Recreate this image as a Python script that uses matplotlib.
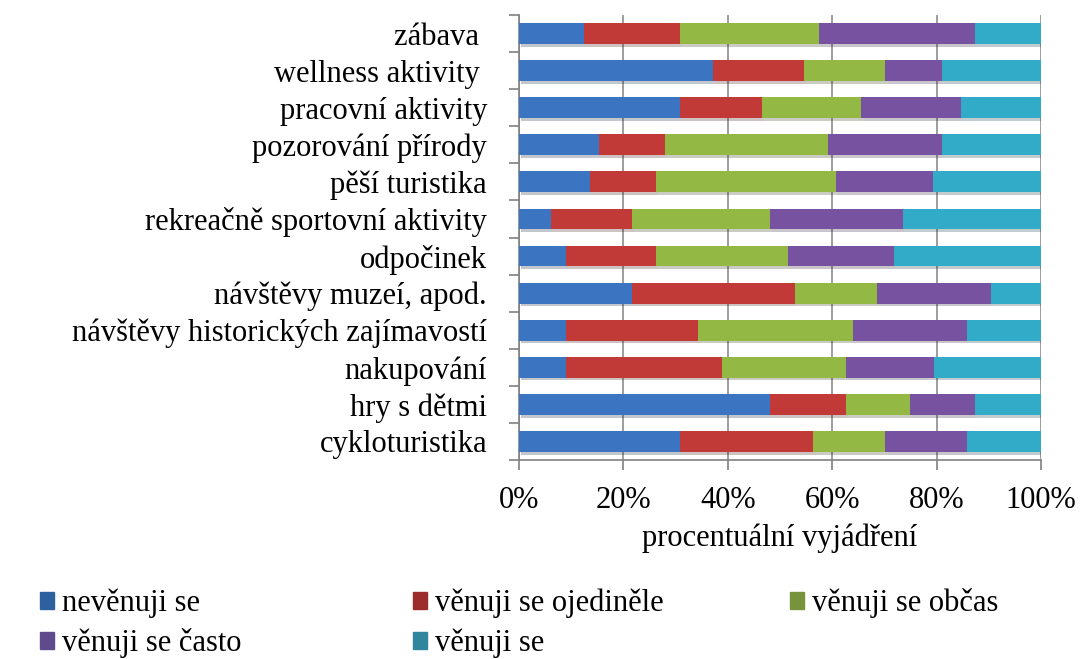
import numpy as np
import matplotlib.pyplot as plt
from matplotlib.patches import Rectangle
import matplotlib.patheffects as pe

plt.rcParams['font.family'] = ['Liberation Serif', 'DejaVu Serif']

categories = ['zábava ', 'wellness aktivity ', 'pracovní aktivity', 'pozorování přírody',
              'pěší turistika', 'rekreačně sportovní aktivity', 'odpočinek',
              'návštěvy muzeí, apod.', 'návštěvy historických zajímavostí',
              'nakupování', 'hry s dětmi', 'cykloturistika']

series_names = ['nevěnuji se', 'věnuji se ojediněle', 'věnuji se občas',
                'věnuji se často', 'věnuji se']

nevenuji = [12.4, 37.2, 30.9, 15.3, 13.6, 6.1, 9.0, 21.6, 9.0, 9.0, 48.1, 30.9]
ojedinele = [18.5, 17.4, 15.7, 12.6, 12.7, 15.5, 17.3, 31.3, 25.3, 29.9, 14.5, 25.4]
obcas = [26.6, 15.6, 19.0, 31.3, 34.5, 26.5, 25.3, 15.6, 29.6, 23.7, 12.3, 13.9]
casto = [29.9, 10.9, 19.0, 21.8, 18.6, 25.4, 20.3, 21.9, 21.9, 16.9, 12.5, 15.6]
venuji = [12.6, 18.9, 15.4, 19.0, 20.6, 26.5, 28.1, 9.6, 14.2, 20.5, 12.6, 14.2]

bar_colors = ['#3b74c0', '#c23a37', '#93b944', '#7752a0', '#32abc9']
legend_colors = ['#2e5f9e', '#9b2d2a', '#77933c', '#5f4a8b', '#31859c']

FS = 22

fig = plt.figure(figsize=(10.84, 6.59), dpi=100)
ax = fig.add_axes([519 / 1084, 1 - 460 / 659, 522 / 1084, 445 / 659])

y = np.arange(len(categories))
left = np.zeros(len(categories))
for vals, col in zip([nevenuji, ojedinele, obcas, casto, venuji], bar_colors):
    bars = ax.barh(y, vals, left=left, height=0.56, color=col, zorder=3)
    for b in bars:
        b.set_path_effects([pe.SimplePatchShadow(offset=(1.5, -2), alpha=0.25),
                            pe.Normal()])
    left += np.array(vals)

ax.set_ylim(len(categories) - 0.5, -0.5)
ax.set_xlim(0, 100)
ax.set_yticks(y)
ax.set_yticklabels(categories)
ax.set_yticks(np.arange(-0.5, len(categories)), minor=True)
ax.tick_params(axis='y', which='major', length=0, pad=23, labelsize=FS)
ax.tick_params(axis='y', which='minor', length=7, color='#808080', width=1.2)

ax.set_xticks(np.arange(0, 101, 20))
ax.set_xticklabels([f'{v}%' for v in range(0, 101, 20)])
ax.tick_params(axis='x', length=7, color='#808080', width=1.2, pad=12, labelsize=FS)
ax.xaxis.grid(True, color='#8c8c8c', linewidth=1.2, zorder=0)
ax.set_axisbelow(True)

for side in ['top', 'right']:
    ax.spines[side].set_visible(False)
for side in ['left', 'bottom']:
    ax.spines[side].set_color('#808080')
    ax.spines[side].set_linewidth(1.2)

ax.set_xlabel('procentuální vyjádření', fontsize=FS, labelpad=6)

# legend laid out in a fixed grid
cols_x = [40, 413, 790]
rows_y = [603, 643]
for i, (name, col) in enumerate(zip(series_names, legend_colors)):
    px = cols_x[i % 3]
    py = rows_y[i // 3]
    fig.patches.append(Rectangle((px / 1084, 1 - (py + 6) / 659), 14 / 1084, 17 / 659,
                                 transform=fig.transFigure, color=col))
    fig.text((px + 22) / 1084, 1 - py / 659, name, fontsize=FS, va='center', ha='left')

fig.savefig('out.png', dpi=100)
